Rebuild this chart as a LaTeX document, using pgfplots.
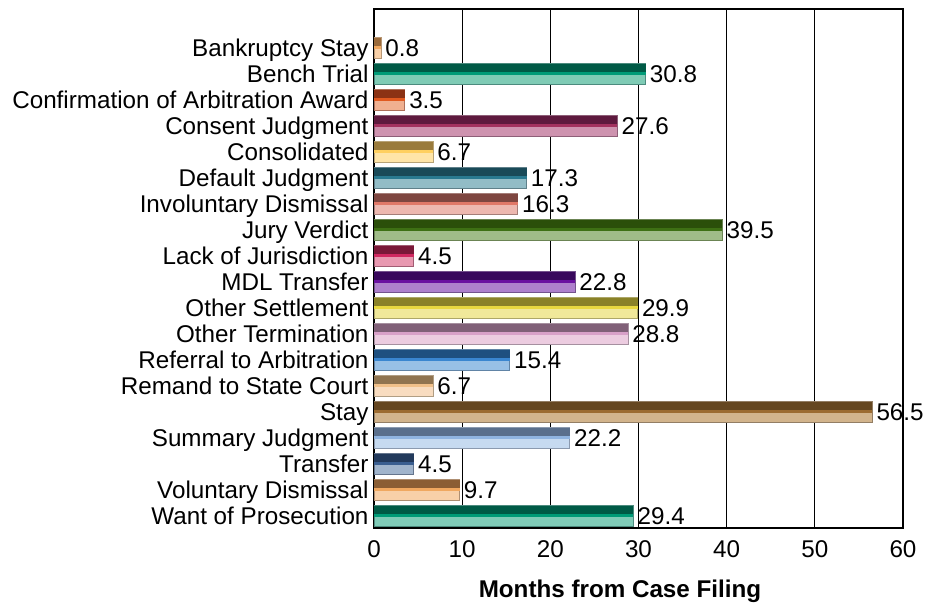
\documentclass[border=0pt]{standalone}
\usepackage{pgfplots}
\pgfplotsset{compat=1.18}
\usepackage{fontspec}
\setmainfont{Liberation Sans}
\newcommand{\lab}{\fontsize{24.3}{27}\selectfont}
\definecolor{d0}{HTML}{9A6A3A}\definecolor{m0}{HTML}{F0A860}\definecolor{l0}{HTML}{F8D0A8}
\definecolor{d1}{HTML}{005A46}\definecolor{m1}{HTML}{009B77}\definecolor{l1}{HTML}{7FCBB5}
\definecolor{d2}{HTML}{8B3214}\definecolor{m2}{HTML}{E05A20}\definecolor{l2}{HTML}{F0B090}
\definecolor{d3}{HTML}{5E1A3E}\definecolor{m3}{HTML}{A3325F}\definecolor{l3}{HTML}{CE93AF}
\definecolor{d4}{HTML}{9A7B3C}\definecolor{m4}{HTML}{FFD060}\definecolor{l4}{HTML}{FFE5A8}
\definecolor{d5}{HTML}{1A4A58}\definecolor{m5}{HTML}{2A7A90}\definecolor{l5}{HTML}{92BCC6}
\definecolor{d6}{HTML}{7E4640}\definecolor{m6}{HTML}{E07868}\definecolor{l6}{HTML}{EDB8B0}
\definecolor{d7}{HTML}{2B4F0A}\definecolor{m7}{HTML}{3E7014}\definecolor{l7}{HTML}{A0BC88}
\definecolor{d8}{HTML}{7A1838}\definecolor{m8}{HTML}{D02860}\definecolor{l8}{HTML}{E898B0}
\definecolor{d9}{HTML}{38085C}\definecolor{m9}{HTML}{6A10A0}\definecolor{l9}{HTML}{AE80CC}
\definecolor{d10}{HTML}{8A8228}\definecolor{m10}{HTML}{E8D840}\definecolor{l10}{HTML}{F0E89A}
\definecolor{d11}{HTML}{806078}\definecolor{m11}{HTML}{D8A0C8}\definecolor{l11}{HTML}{ECCCE0}
\definecolor{d12}{HTML}{1E5080}\definecolor{m12}{HTML}{3A86D0}\definecolor{l12}{HTML}{98C0E6}
\definecolor{d13}{HTML}{907450}\definecolor{m13}{HTML}{F0C08A}\definecolor{l13}{HTML}{F8DCC0}
\definecolor{d14}{HTML}{654721}\definecolor{m14}{HTML}{9C6B30}\definecolor{l14}{HTML}{D2B48C}
\definecolor{d15}{HTML}{5A6F8C}\definecolor{m15}{HTML}{90B4E0}\definecolor{l15}{HTML}{C6DAF0}
\definecolor{d16}{HTML}{233A5C}\definecolor{m16}{HTML}{3A5E90}\definecolor{l16}{HTML}{A0B4CC}
\definecolor{d17}{HTML}{8B5E34}\definecolor{m17}{HTML}{F0A860}\definecolor{l17}{HTML}{F8D0A8}
\definecolor{d18}{HTML}{005A46}\definecolor{m18}{HTML}{009B77}\definecolor{l18}{HTML}{80CCB8}
\newcommand{\cbar}[2]{%
  \addplot[xbar, fill=l#1, draw=d#1!70, line width=0.8bp, bar width=0.8, bar shift=0,
    nodes near coords={\pgfmathprintnumber[fixed,fixed zerofill,precision=1]{\pgfplotspointmeta}},
    every node near coord/.append style={anchor=base west, inner sep=0pt, xshift=4bp, yshift=-8.7bp, font=\lab, text=black}]
    coordinates {(#2,#1)};
  \addplot[xbar, fill=d#1, draw=none, bar width=0.35, bar shift=-0.225] coordinates {(#2,#1)};
  \addplot[xbar, fill=m#1, draw=none, bar width=0.13, bar shift=-0.015] coordinates {(#2,#1)};
}
\begin{document}
\begin{tikzpicture}
\begin{axis}[
  at={(0,0)}, anchor=south west,
  scale only axis, width=529bp, height=519bp,
  xbar, y dir=reverse,
  xmin=0, xmax=60, ymin=-1.5, ymax=18.46,
  xtick={0,10,...,60}, ytick={0,...,18},
  yticklabels={Bankruptcy Stay, Bench Trial, Confirmation of Arbitration Award, Consent Judgment, Consolidated, Default Judgment, Involuntary Dismissal, Jury Verdict, Lack of Jurisdiction, MDL Transfer, Other Settlement, Other Termination, Referral to Arbitration, Remand to State Court, Stay, Summary Judgment, Transfer, Voluntary Dismissal, Want of Prosecution},
  /pgf/number format/assume math mode=true,
  xmajorgrids, grid style={black, line width=0.8bp},
  major tick length=0pt,
  axis line style={black, line width=1.2bp},
  xticklabel style={font=\lab, anchor=base, yshift=-29.5bp},
  yticklabel style={font=\lab, anchor=base east, yshift=-8.7bp, xshift=-2bp},
  xlabel={\bfseries Months from Case Filing},
  xlabel style={font=\lab, at={(axis description cs:0.465,0)}, anchor=base, yshift=-69bp},
  clip=false,
]
\cbar{0}{0.8}
\cbar{1}{30.8}
\cbar{2}{3.5}
\cbar{3}{27.6}
\cbar{4}{6.7}
\cbar{5}{17.3}
\cbar{6}{16.3}
\cbar{7}{39.5}
\cbar{8}{4.5}
\cbar{9}{22.8}
\cbar{10}{29.9}
\cbar{11}{28.8}
\cbar{12}{15.4}
\cbar{13}{6.7}
\cbar{14}{56.5}
\cbar{15}{22.2}
\cbar{16}{4.5}
\cbar{17}{9.7}
\cbar{18}{29.4}
\end{axis}
\pgfresetboundingbox
\useasboundingbox (-374bp,-75bp) rectangle (556bp,528bp);
\end{tikzpicture}
\end{document}
